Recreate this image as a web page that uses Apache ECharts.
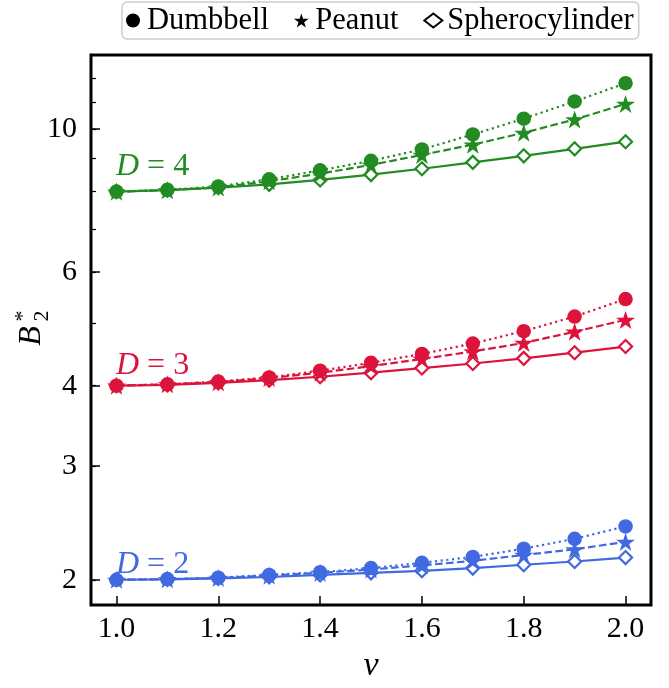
<!DOCTYPE html>
<html><head><meta charset="utf-8">
<script src="https://cdn.jsdelivr.net/npm/echarts@6/dist/echarts.min.js"></script>
<style>html,body{margin:0;padding:0;background:#fff}#c{width:669px;height:688px}</style>
</head><body><div id="c"></div>
<script>
const nu = [1.0, 1.1, 1.2, 1.3, 1.4, 1.5, 1.6, 1.7, 1.8, 1.9, 2.0];
const dumbbellD2 = [2.0, 2.005, 2.015, 2.035, 2.055, 2.085, 2.125, 2.17, 2.235, 2.315, 2.42];
const peanutD2 = [2.0, 2.004, 2.013, 2.03, 2.05, 2.075, 2.105, 2.14, 2.185, 2.23, 2.29];
const spheroD2 = [2.0, 2.003, 2.01, 2.02, 2.035, 2.05, 2.065, 2.085, 2.11, 2.135, 2.165];
const dumbbellD3 = [4.0, 4.02, 4.06, 4.12, 4.22, 4.34, 4.48, 4.65, 4.86, 5.12, 5.45];
const peanutD3 = [4.0, 4.02, 4.05, 4.11, 4.19, 4.29, 4.40, 4.52, 4.66, 4.85, 5.06];
const spheroD3 = [4.0, 4.01, 4.04, 4.08, 4.13, 4.19, 4.26, 4.33, 4.41, 4.50, 4.60];
const dumbbellD4 = [8.0, 8.05, 8.15, 8.36, 8.63, 8.93, 9.30, 9.81, 10.38, 11.04, 11.78];
const peanutD4 = [8.0, 8.04, 8.12, 8.30, 8.53, 8.80, 9.12, 9.46, 9.87, 10.35, 10.94];
const spheroD4 = [8.0, 8.04, 8.11, 8.21, 8.34, 8.50, 8.68, 8.88, 9.09, 9.32, 9.56];
const xTicks = [1.0, 1.2, 1.4, 1.6, 1.8, 2.0];
const yMajorTicks = [2, 3, 4, 6, 10];
const yMinorTicks = [2, 3, 4, 5, 6, 7, 8, 9, 10, 11, 12];
const groupLabels = ['D', 'D', 'D'];
const groupNums = ['4', '3', '2'];

const STAR = 'path://M100,0 L122.45,69.1 L195.11,69.1 L136.33,111.8 L158.78,180.9 L100,138.2 L41.22,180.9 L63.67,111.8 L4.89,69.1 L77.55,69.1 Z';
const FONT = 'Liberation Serif';
const groups = [
  {color: '#228B22', d: dumbbellD4, p: peanutD4, s: spheroD4},
  {color: '#DC143C', d: dumbbellD3, p: peanutD3, s: spheroD3},
  {color: '#4169E1', d: dumbbellD2, p: peanutD2, s: spheroD2}
];
const pairs = arr => nu.map((x, i) => [x, arr[i]]);
const series = [];
groups.forEach((g, gi) => {
  series.push({type: 'line', name: 's' + gi, data: pairs(g.s), symbol: 'diamond', symbolSize: 13,
    lineStyle: {color: g.color, width: 2.2}, itemStyle: {color: '#fff', borderColor: g.color, borderWidth: 2.2},
    z: 2, silent: true, animation: false});
  series.push({type: 'line', name: 'p' + gi, data: pairs(g.p), symbol: STAR, symbolSize: 19, symbolKeepAspect: true,
    lineStyle: {color: g.color, width: 2.2, type: [7.6, 3.4]}, itemStyle: {color: g.color, borderWidth: 0},
    z: 3, silent: true, animation: false});
  series.push({type: 'line', name: 'd' + gi, data: pairs(g.d), symbol: 'circle', symbolSize: 14.5,
    lineStyle: {color: g.color, width: 2.2, type: [2.2, 3.5]}, itemStyle: {color: g.color, borderWidth: 0},
    z: 4, silent: true, animation: false});
});
['Dumbbell', 'Peanut', 'Spherocylinder'].forEach(n => series.push({type: 'line', name: n, data: [], itemStyle: {color: '#000'}}));

const chart = echarts.init(document.getElementById('c'), null, {renderer: 'canvas'});
const yBase = {type: 'log', logBase: 10, min: 1.827, max: 13.03, position: 'left',
  splitLine: {show: false}, axisLine: {show: false}, minorTick: {show: false}};
chart.setOption({
  animation: false,
  backgroundColor: '#fff',
  grid: {left: 91, right: 18, top: 55, bottom: 69, show: true, borderColor: '#000', borderWidth: 3, backgroundColor: 'transparent'},
  legend: {
    left: 122, top: 2, orient: 'horizontal', itemWidth: 18, itemHeight: 14, itemGap: 25,
    padding: [3, 5, 3, 4], borderColor: '#cccccc', borderWidth: 1.5, borderRadius: 5,
    textStyle: {fontFamily: FONT, fontSize: 30.5, color: '#000'},
    data: [
      {name: 'Dumbbell', icon: 'circle', itemStyle: {color: '#000'}},
      {name: 'Peanut', icon: STAR, itemStyle: {color: '#000'}},
      {name: 'Spherocylinder', icon: 'diamond', itemStyle: {color: '#fff', borderColor: '#000', borderWidth: 2}}
    ],
    selectedMode: false
  },
  xAxis: {
    type: 'value', min: 0.95, max: 2.05,
    axisLine: {show: false}, splitLine: {show: false},
    axisTick: {show: true, inside: true, length: 9, lineStyle: {color: '#000', width: 1.5}, customValues: xTicks},
    axisLabel: {customValues: xTicks, margin: 9, fontFamily: FONT, fontSize: 30, color: '#000', formatter: v => v.toFixed(1)},
    name: 'ν', nameLocation: 'middle', nameGap: 40,
    nameTextStyle: {fontFamily: FONT, fontStyle: 'italic', fontSize: 34, color: '#000'}
  },
  yAxis: [
    Object.assign({}, yBase, {
      axisTick: {show: true, inside: true, length: 9, lineStyle: {color: '#000', width: 1.5}, customValues: yMajorTicks},
      axisLabel: {customValues: yMajorTicks, margin: 14, fontFamily: FONT, fontSize: 30, color: '#000', formatter: v => String(Math.round(v))}
    }),
    Object.assign({}, yBase, {
      axisTick: {show: true, inside: true, length: 5, lineStyle: {color: '#000', width: 1.2}, customValues: yMinorTicks},
      axisLabel: {show: false}
    })
  ],
  series: series,
  graphic: [
    {type: 'group', x: 32, y: 327, rotation: Math.PI / 2, children: [
      {type: 'text', x: -9, y: 0, style: {text: 'B', font: 'italic 32px "Liberation Serif"', fill: '#000', align: 'center', verticalAlign: 'middle'}},
      {type: 'text', x: 11, y: -9, style: {text: '*', font: '22px "Liberation Serif"', fill: '#000', align: 'center', verticalAlign: 'middle'}},
      {type: 'text', x: 11, y: 10, style: {text: '2', font: '22px "Liberation Serif"', fill: '#000', align: 'center', verticalAlign: 'middle'}}
    ]}
  ].concat(groups.map((g, i) => ({
    type: 'text', left: 116, top: [151, 350, 549][i],
    style: {
      text: '{i|' + groupLabels[i] + '}{n| = ' + groupNums[i] + '}',
      rich: {i: {fontFamily: FONT, fontStyle: 'italic', fontSize: 32, fill: g.color},
             n: {fontFamily: FONT, fontSize: 32, fill: g.color}},
      fill: g.color
    }
  })))
});
</script></body></html>
